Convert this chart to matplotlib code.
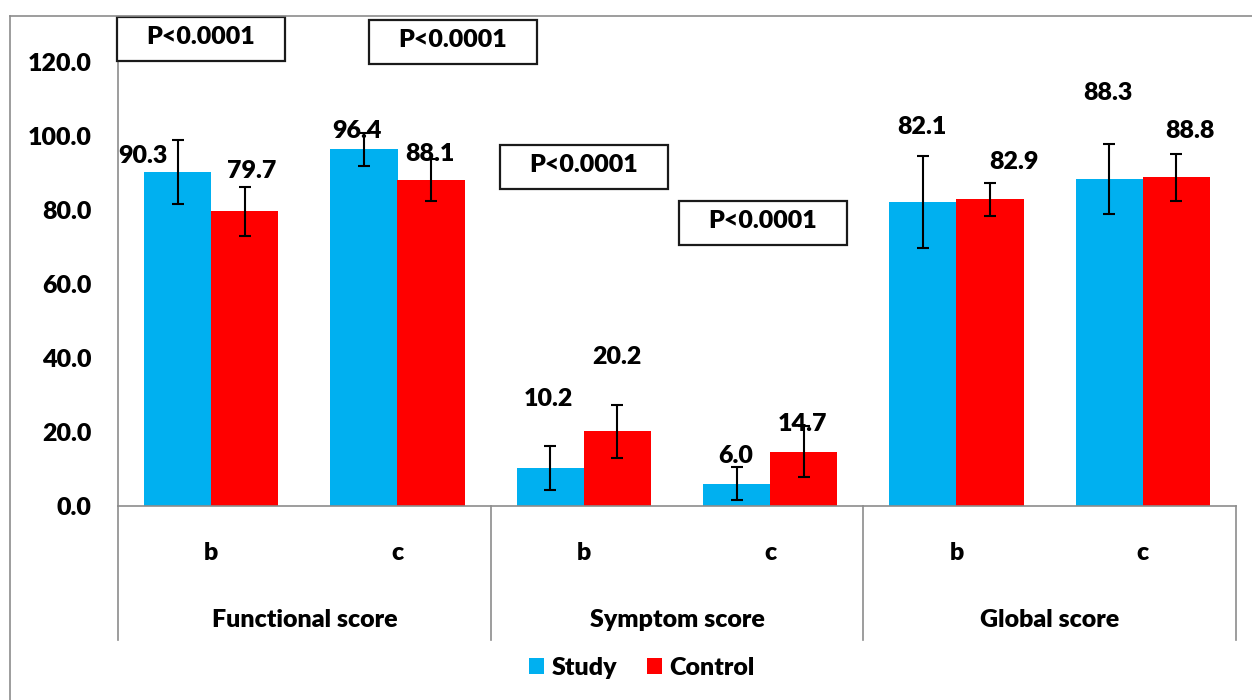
import matplotlib
matplotlib.use("Agg")
import matplotlib.pyplot as plt
from matplotlib.patches import Rectangle
from matplotlib.lines import Line2D
import numpy as np

# Data
groups = ["Functional score", "Symptom score", "Global score"]
times = ["b", "c", "b", "c", "b", "c"]
study = [90.3, 96.4, 10.2, 6.0, 82.1, 88.3]
control = [79.7, 88.1, 20.2, 14.7, 82.9, 88.8]
study_sd = [8.6, 4.5, 6.0, 4.5, 12.4, 9.5]
control_sd = [6.6, 5.8, 7.2, 6.9, 4.5, 6.3]
p_texts = ["P<0.0001", "P<0.0001", "P<0.0001", "P<0.0001"]

# Layout (where the value labels / p boxes sit, in data units)
study_lbl = [(-0.366, 94.6), (-0.217, 101.4), (-0.188, 28.9),
             (-0.183, 13.5), (-0.187, 102.5), (-0.188, 111.5)]
control_lbl = [(0.22, 90.5), (0.175, 95.1), (0.175, 40.4),
               (0.176, 22.2), (0.308, 92.9), (0.252, 101.4)]
p_boxes = [(-0.504, 120.3), (0.848, 119.5), (1.550, 85.7), (2.511, 70.5)]
box_w, box_h = 0.90, 11.9

blue = "#00B0F0"
red = "#FF0000"
gray = "#8C8C8C"

wt = "heavy"
plt.rcParams["font.family"] = ["Lato", "DejaVu Sans"]
plt.rcParams["font.weight"] = wt
fs = 18

W, H = 1252, 700
fig = plt.figure(figsize=(W / 100, H / 100), dpi=100)
ax = fig.add_axes([118 / W, 1 - 506 / H, (1236 - 118) / W, (506 - 62) / H])

x = np.arange(len(times))
bw = 0.36
b1 = ax.bar(x - bw / 2, study, bw, color=blue, label="Study", zorder=2)
b2 = ax.bar(x + bw / 2, control, bw, color=red, label="Control", zorder=2)
ax.errorbar(x - bw / 2, study, yerr=study_sd, fmt="none", ecolor="black",
            elinewidth=1.5, capsize=4.5, capthick=1.5, zorder=3)
ax.errorbar(x + bw / 2, control, yerr=control_sd, fmt="none", ecolor="black",
            elinewidth=1.5, capsize=4.5, capthick=1.5, zorder=3)

# value labels
for i in range(len(times)):
    dx, yy = study_lbl[i]
    ax.text(x[i] + dx, yy, "%.1f" % study[i], ha="center", va="center",
            fontsize=fs, fontweight=wt, zorder=4)
    dx, yy = control_lbl[i]
    ax.text(x[i] + dx, yy, "%.1f" % control[i], ha="center", va="center",
            fontsize=fs, fontweight=wt, zorder=4)

ax.set_xlim(-0.5, len(times) - 0.5)
ax.set_ylim(0, 120)
ax.set_yticks(np.arange(0, 121, 20))
ax.set_yticklabels(["%.1f" % v for v in np.arange(0, 121, 20)], fontsize=fs,
                   fontweight=wt)
ax.tick_params(axis="y", length=0, pad=19)
ax.set_xticks([])
for s in ["top", "right"]:
    ax.spines[s].set_visible(False)
for s in ["left", "bottom"]:
    ax.spines[s].set_color(gray)
    ax.spines[s].set_linewidth(1.2)

# category axis: sub labels, group labels, dividers
tr = ax.get_xaxis_transform()
low = -(640 - 506) / (506 - 62)
for i, t in enumerate(times):
    ax.text(x[i], -(553 - 506) / (506 - 62), t, transform=tr, ha="center",
            va="center", fontsize=fs, fontweight=wt)
for g, name in enumerate(groups):
    ax.text(2 * g + 0.5, -(620 - 506) / (506 - 62), name, transform=tr,
            ha="center", va="center", fontsize=fs, fontweight=wt)
for xd in [-0.5, 1.5, 3.5, 5.5]:
    ax.plot([xd, xd], [0, low], transform=tr, color=gray, lw=1.2,
            clip_on=False)

# p-value boxes
for (bx, by), txt in zip(p_boxes, p_texts):
    ax.add_patch(Rectangle((bx, by), box_w, box_h, facecolor="white",
                           edgecolor="#1a1a1a", lw=1.6, clip_on=False, zorder=5))
    ax.text(bx + box_w / 2, by + box_h * 0.55, txt, ha="center", va="center",
            fontsize=fs, fontweight=wt, zorder=6, clip_on=False)

# legend
fig.legend(handles=[b1, b2], loc="center", ncol=2, frameon=False,
           bbox_to_anchor=(642 / W, 1 - 668 / H),
           handlelength=0.6, handleheight=0.6, handletextpad=0.3,
           columnspacing=1.2, prop={"weight": wt, "size": fs})

# outer chart frame
fig.add_artist(Line2D([10 / W, 10 / W], [0, 1 - 16 / H], color=gray, lw=1.2))
fig.add_artist(Line2D([10 / W, 1], [1 - 16 / H, 1 - 16 / H], color=gray, lw=1.2))

fig.savefig("out.png", dpi=100)
